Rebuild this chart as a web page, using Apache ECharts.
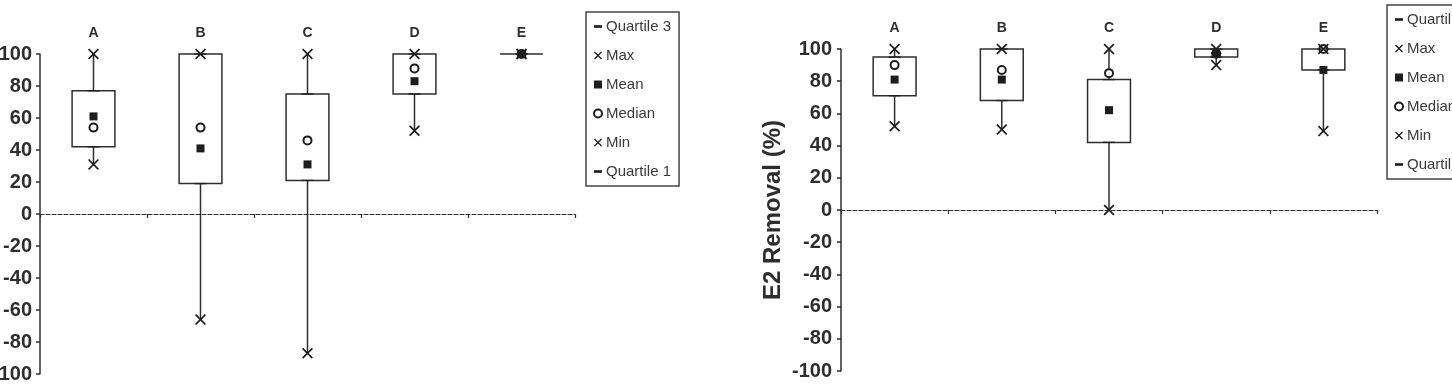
<!DOCTYPE html>
<html>
<head>
<meta charset="utf-8">
<style>
  html, body { margin: 0; padding: 0; background: #fff; }
  #chart { width: 1452px; height: 390px; }
</style>
<script src="https://cdn.jsdelivr.net/npm/echarts@6/dist/echarts.min.js"></script>
</head>
<body>
<div id="chart"></div>
<script>
// ---------- data ----------
const categories = ['A', 'B', 'C', 'D', 'E'];
const seriesNames = ['Quartile 3', 'Max', 'Mean', 'Median', 'Min', 'Quartile 1'];
const yTickMin = -100, yTickMax = 100, yTickStep = 20;
const yAxisTitleRight = 'E2 Removal (%)';

// left panel
const minLeft    = [31, -66, -87, 52, 100];
const q1Left     = [42, 19, 21, 75, 100];
const medianLeft = [54, 54, 46, 91, 100];
const meanLeft   = [61, 41, 31, 83, 100];
const q3Left     = [77, 100, 75, 100, 100];
const maxLeft    = [100, 100, 100, 100, 100];

// right panel
const minRight    = [52, 50, 0, 90, 49];
const q1Right     = [71, 68, 42, 95, 87];
const medianRight = [90, 87, 85, 97, 100];
const meanRight   = [81, 81, 62, 97, 87];
const q3Right     = [95, 100, 81, 100, 100];
const maxRight    = [100, 100, 100, 100, 100];

// ---------- styling ----------
const FONT = "'Liberation Sans', Arial, Helvetica, sans-serif";
const INK = '#2e2e2e';
const MARK = '#1e1e1e';
const X_PATH = 'path://M0,1.1L1.1,0L5,3.9L8.9,0L10,1.1L6.1,5L10,8.9L8.9,10L5,6.1L1.1,10L0,8.9L3.9,5Z';
const DASH_PATH = 'path://M0,0H12V4H0Z';

const symbolFor = {
  'Quartile 3': { symbol: DASH_PATH, size: [12, 4], z: 4 },
  'Max':        { symbol: X_PATH, size: 11, z: 5 },
  'Mean':       { symbol: 'rect', size: 8, z: 7 },
  'Median':     { symbol: 'emptyCircle', size: 8, z: 3 },
  'Min':        { symbol: X_PATH, size: 11, z: 5 },
  'Quartile 1': { symbol: DASH_PATH, size: [12, 4], z: 4 }
};

function boxRender(params, api) {
  const i = api.value(0);
  const vMin = api.value(1), vQ1 = api.value(2), vQ3 = api.value(3), vMax = api.value(4);
  const pMin = api.coord([i, vMin]);
  const pQ1 = api.coord([i, vQ1]);
  const pQ3 = api.coord([i, vQ3]);
  const pMax = api.coord([i, vMax]);
  const bw = api.size([1, 0])[0] * 0.4;
  const lineStyle = { stroke: INK, lineWidth: 1.5, fill: null };
  const children = [];
  if (vMax > vQ3) children.push({ type: 'line', shape: { x1: pQ3[0], y1: pQ3[1], x2: pMax[0], y2: pMax[1] }, style: lineStyle });
  if (vQ1 > vMin) children.push({ type: 'line', shape: { x1: pQ1[0], y1: pQ1[1], x2: pMin[0], y2: pMin[1] }, style: lineStyle });
  children.push({ type: 'rect', shape: { x: pQ1[0] - bw / 2, y: pQ3[1], width: bw, height: pQ1[1] - pQ3[1] }, style: lineStyle });
  return { type: 'group', children: children };
}

function panelSeries(idx, mins, q1s, medians, means, q3s, maxs) {
  const out = [{
    type: 'custom',
    name: 'box' + idx,
    xAxisIndex: idx * 2,
    yAxisIndex: idx,
    renderItem: boxRender,
    encode: { x: 0, y: [1, 2, 3, 4] },
    data: categories.map((c, i) => [i, mins[i], q1s[i], q3s[i], maxs[i]]),
    z: 1,
    silent: true
  }];
  const valuesFor = { 'Quartile 3': q3s, 'Max': maxs, 'Mean': means, 'Median': medians, 'Min': mins, 'Quartile 1': q1s };
  seriesNames.forEach((n) => {
    out.push({
      type: 'scatter',
      name: n,
      xAxisIndex: idx * 2,
      yAxisIndex: idx,
      symbol: symbolFor[n].symbol,
      symbolSize: symbolFor[n].size,
      symbolKeepAspect: true,
      itemStyle: { color: MARK, borderColor: MARK, borderWidth: n === 'Median' ? 1.4 : 0, opacity: 1 },
      data: valuesFor[n],
      z: symbolFor[n].z
    });
  });
  return out;
}

function yAxisFor(idx, gridIdx, withName, margin) {
  const ax = {
    type: 'value',
    gridIndex: gridIdx,
    min: yTickMin, max: yTickMax, interval: yTickStep,
    splitLine: { show: false },
    axisLine: { show: true, lineStyle: { color: INK, width: 1.5 } },
    axisTick: { show: true, length: 4, lineStyle: { color: INK, width: 1.5 } },
    axisLabel: { color: INK, fontFamily: FONT, fontWeight: 'bold', fontSize: 20, margin: margin }
  };
  if (withName) {
    ax.name = yAxisTitleRight;
    ax.nameLocation = 'middle';
    ax.nameRotate = 90;
    ax.nameGap = 56;
    ax.nameTextStyle = { color: INK, fontFamily: FONT, fontWeight: 'bold', fontSize: 24 };
  }
  return ax;
}

function xAxesFor(gridIdx) {
  return [{
    type: 'category',
    gridIndex: gridIdx,
    data: categories,
    boundaryGap: true,
    axisLine: { show: true, onZero: true, lineStyle: { color: INK, width: 1.2, type: [4, 2] } },
    axisTick: { show: true, length: 4, interval: 0, lineStyle: { color: INK, width: 1.2 } },
    axisLabel: { show: false },
    splitLine: { show: false }
  }, {
    type: 'category',
    gridIndex: gridIdx,
    position: 'top',
    data: categories,
    boundaryGap: true,
    axisLine: { show: false },
    axisTick: { show: false },
    axisLabel: { color: INK, fontFamily: FONT, fontWeight: 'bold', fontSize: 14, margin: 14 },
    splitLine: { show: false }
  }];
}

function legendAt(left, top) {
  return {
    orient: 'vertical',
    left: left, top: top,
    data: seriesNames,
    borderColor: '#444',
    borderWidth: 1.5,
    borderRadius: 0,
    padding: [7, 8, 7, 7],
    itemWidth: 8,
    itemHeight: 8,
    itemGap: 14,
    selectedMode: false,
    textStyle: { color: '#3a3a3a', fontFamily: FONT, fontSize: 15, lineHeight: 15, padding: [0, 0, 0, -1] }
  };
}

const chart = echarts.init(document.getElementById('chart'), null, { renderer: 'canvas' });
chart.setOption({
  backgroundColor: '#ffffff',
  animation: false,
  legend: [legendAt(586, 12), legendAt(1387, 5)],
  grid: [
    { left: 40, top: 54, width: 535, height: 320, containLabel: false, outerBoundsMode: 'none' },
    { left: 841, top: 49, width: 536, height: 322, containLabel: false, outerBoundsMode: 'none' }
  ],
  xAxis: xAxesFor(0).concat(xAxesFor(1)),
  yAxis: [yAxisFor(0, 0, false, 8), yAxisFor(1, 1, true, 9)],
  series: panelSeries(0, minLeft, q1Left, medianLeft, meanLeft, q3Left, maxLeft)
    .concat(panelSeries(1, minRight, q1Right, medianRight, meanRight, q3Right, maxRight))
});
</script>
</body>
</html>
